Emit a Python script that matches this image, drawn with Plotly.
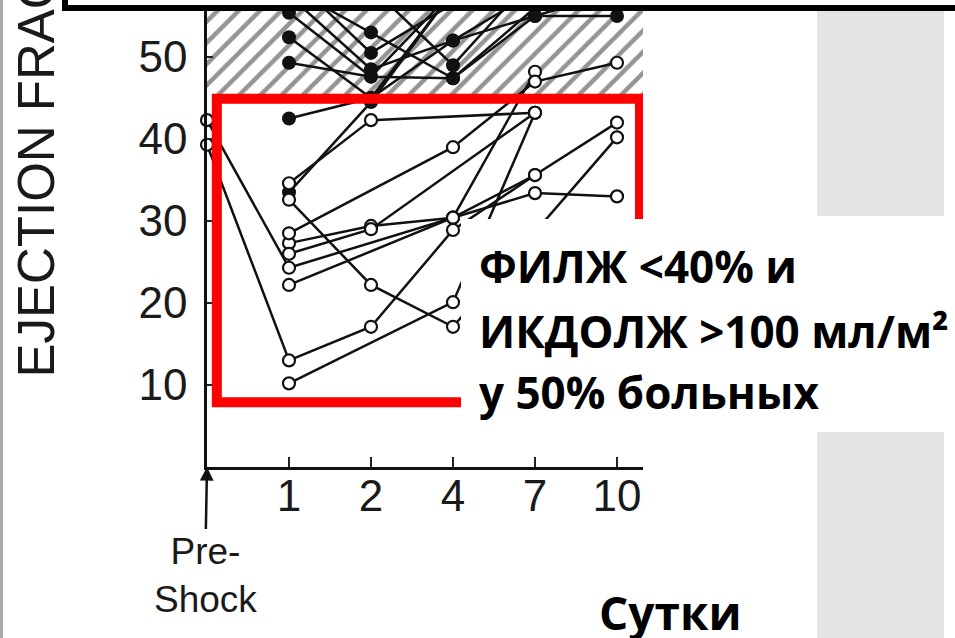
import plotly.graph_objects as go

# Measurement points: position 0 is the pre-shock study, then days after onset
day_pos = [0, 1, 2, 3, 4, 5]
day_labels = ["1", "2", "4", "7", "10"]
ef_ticks = [10, 20, 30, 40, 50]

normal_ef_floor = 45          # lower edge of the hatched normal range
low_ef_box_ef = [7.9, 44.9]   # EF span of the highlighted low-EF region
low_ef_box_pos = [0.12, 5.28]

# LV ejection fraction (%) per patient at [pre, 1, 2, 4, 7, 10]
survivors = [
    [39.3, 13.0, 17.1, 28.9, 35.6, 42.0],
    [42.3, 24.3, None, 30.4, 48.2, None],
    [None, 32.6, 22.2, 17.1, None, 40.2],
    [None, 34.6, 42.3, None, 43.2, None],
    [None, 27.3, 29.4, 30.4, 33.4, 33.0],
    [None, 10.2, None, 20.1, 43.2, None],
    [None, 28.5, None, 39.0, 47.0, 49.3],
    [None, 22.2, None, 30.4, 35.6, None],
    [None, 26.0, 29.0, None, 43.2, None],
]
nonsurvivors = [
    [None, 55.4, 47.6, 47.4, 56.0, None],
    [None, 52.4, 45.0, 58.0, None, None],
    [None, 49.3, 47.6, 58.0, None, None],
    [None, 42.5, 45.0, 52.0, 58.0, None],
    [None, 33.5, 44.5, 58.0, None, None],
    [None, 58.5, 53.0, 47.4, 55.0, 55.0],
    [None, 57.5, 48.5, 52.0, 55.0, 58.0],
    [None, 60.0, 50.5, 56.5, None, None],
    [None, None, 58.5, 49.0, 60.0, None],
]

W, H = 955, 638
X_MAX = 5.317
Y_MAX = 56.95

fig = go.Figure()

# hatched normal range
fig.add_trace(go.Scatter(
    x=[0, X_MAX, X_MAX, 0, 0],
    y=[normal_ef_floor, normal_ef_floor, 70, 70, normal_ef_floor],
    mode="lines", fill="toself", line=dict(width=0),
    fillcolor="white",
    fillpattern=dict(shape="/", size=15, solidity=0.3, fgcolor="#2a2a2a", bgcolor="white"),
    hoverinfo="skip", showlegend=False,
))

line_style = dict(color="#111111", width=2.5)

for ef in nonsurvivors:
    fig.add_trace(go.Scatter(
        x=day_pos, y=ef, mode="lines+markers", connectgaps=True, cliponaxis=False,
        line=line_style,
        marker=dict(symbol="circle", size=14, color="#111111", line=dict(width=0)),
        hoverinfo="skip", showlegend=False,
    ))

for ef in survivors:
    fig.add_trace(go.Scatter(
        x=day_pos, y=ef, mode="lines+markers", connectgaps=True, cliponaxis=False,
        line=line_style,
        marker=dict(symbol="circle", size=12, color="white", line=dict(width=2.2, color="#111111")),
        hoverinfo="skip", showlegend=False,
    ))

scan_font = dict(family="Liberation Sans, Arial, sans-serif", color="#1a1a1a")
slide_font = dict(family="Open Sans, Noto Sans, sans-serif", color="#000000")

def px_x(p):
    return p / W

def px_y(p):
    return 1 - p / H

annotations = [
    # rotated axis title, running off the top edge
    dict(text="EJECTION FRACTION (%)", textangle=-90, xref="paper", yref="paper",
         x=px_x(36), y=px_y(380), xanchor="center", yanchor="bottom", showarrow=False,
         font=dict(size=51, **scan_font)),
    # pre-shock marker with arrow to the origin
    dict(text="Pre-<br>Shock", x=0, y=0, xref="x", yref="y", showarrow=True,
         ax=-2, ay=108, arrowhead=2, arrowsize=1.1, arrowwidth=2.5, arrowcolor="#111111",
         standoff=0, font=dict(size=37, **scan_font)),
    dict(text="<b>ФИЛЖ <40% и</b>", xref="paper", yref="paper", x=px_x(477), y=px_y(266),
         xanchor="left", yanchor="middle", showarrow=False, font=dict(size=44, **slide_font)),
    dict(text="<b>ИКДОЛЖ >100 мл/м²</b>", xref="paper", yref="paper", x=px_x(477), y=px_y(331),
         xanchor="left", yanchor="middle", showarrow=False, font=dict(size=44, **slide_font)),
    dict(text="<b>у 50% больных</b>", xref="paper", yref="paper", x=px_x(477), y=px_y(392),
         xanchor="left", yanchor="middle", showarrow=False, font=dict(size=44, **slide_font)),
    dict(text="<b>Сутки</b>", xref="paper", yref="paper", x=px_x(597), y=px_y(612),
         xanchor="left", yanchor="middle", showarrow=False, font=dict(size=46, **slide_font)),
]

shapes = [
    # frame of the title box above the chart
    dict(type="rect", xref="paper", yref="paper", x0=px_x(65), x1=1.3, y0=px_y(8), y1=1.5,
         line=dict(color="black", width=6), fillcolor="white", layer="above"),
    # highlighted low-EF region
    dict(type="rect", xref="x", yref="y", x0=low_ef_box_pos[0], x1=low_ef_box_pos[1],
         y0=low_ef_box_ef[0], y1=low_ef_box_ef[1],
         line=dict(color="#ff0000", width=10), fillcolor="rgba(0,0,0,0)", layer="above"),
    # text panel
    dict(type="rect", xref="paper", yref="paper", x0=px_x(461), x1=1.05, y0=px_y(431), y1=px_y(219),
         line=dict(width=0), fillcolor="white", layer="above"),
    # grey slide panels on the right
    dict(type="rect", xref="paper", yref="paper", x0=px_x(817), x1=px_x(944), y0=px_y(216), y1=px_y(11),
         line=dict(width=0), fillcolor="#e4e4e4", layer="above"),
    dict(type="rect", xref="paper", yref="paper", x0=px_x(817), x1=px_x(944), y0=-0.05, y1=px_y(432),
         line=dict(width=0), fillcolor="#e4e4e4", layer="above"),
    # grey strip at the left edge
    dict(type="rect", xref="paper", yref="paper", x0=-0.01, x1=px_x(3), y0=-0.05, y1=1.05,
         line=dict(width=0), fillcolor="#a8a8a8", layer="above"),
]

fig.update_layout(
    width=W, height=H,
    margin=dict(l=0, r=0, t=0, b=0),
    paper_bgcolor="white", plot_bgcolor="white",
    showlegend=False,
    annotations=annotations,
    shapes=shapes,
    xaxis=dict(
        domain=[207 / W, 643 / W], range=[0, X_MAX],
        tickmode="array", tickvals=day_pos[1:], ticktext=day_labels,
        ticks="inside", ticklen=10, tickwidth=2, tickcolor="#222222",
        showline=True, linecolor="#111111", linewidth=2.5,
        showgrid=False, zeroline=False, ticklabelstandoff=-12,
        tickfont=dict(size=44, **scan_font), fixedrange=True,
    ),
    yaxis=dict(
        domain=[1 - 467 / H, 1], range=[0, Y_MAX],
        tickmode="array", tickvals=ef_ticks,
        ticks="inside", ticklen=6, tickwidth=2, tickcolor="#222222",
        showline=True, linecolor="#111111", linewidth=2.5,
        showgrid=False, zeroline=False, ticklabelstandoff=8,
        tickfont=dict(size=44, **scan_font), fixedrange=True,
    ),
)

fig.write_html("out.html")
